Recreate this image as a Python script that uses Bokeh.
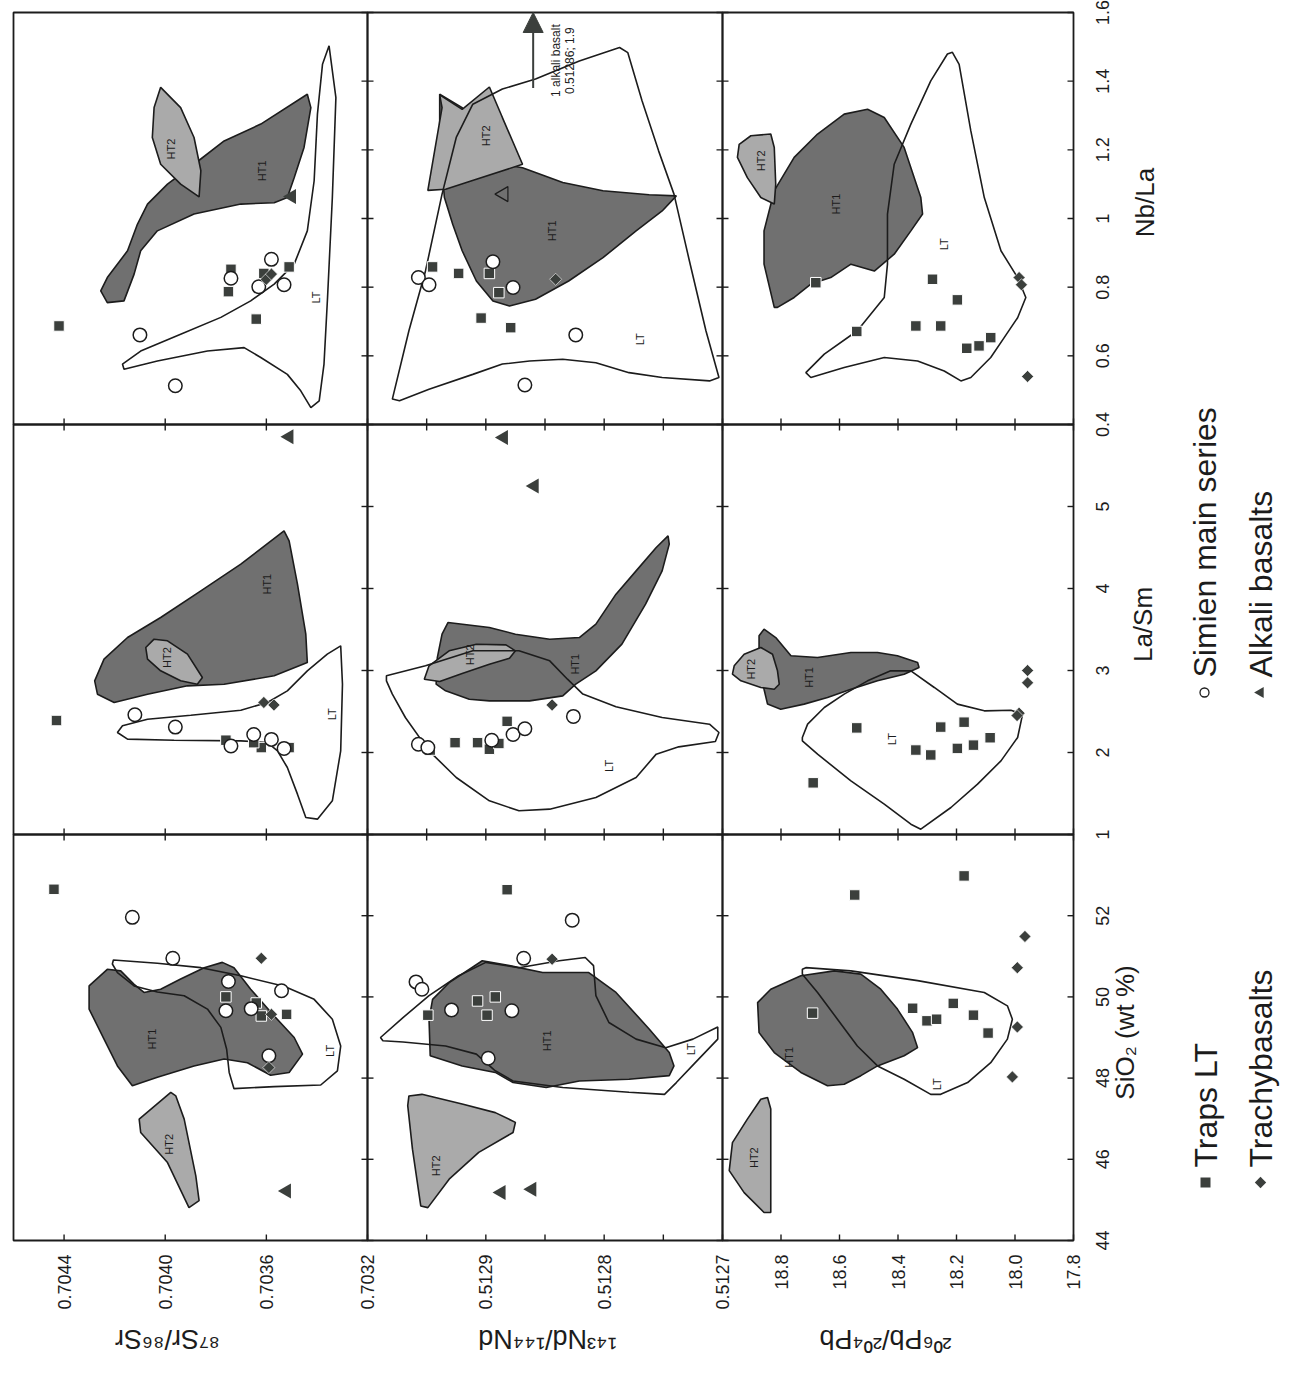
import math
from bokeh.plotting import figure
from bokeh.models import Range1d, Arrow, NormalHead
from bokeh.embed import file_html
from bokeh.resources import INLINE
from bokeh.core.properties import value

# ---------------- axes (figure is printed rotated 90 deg) ----------------
sr_range = (0.7046, 0.7032)
nd_range = (0.5130, 0.5127)
pb_range = (19.0, 17.8)
sio2_range = (44, 54)
lasm_range = (1, 6)
nbla_range = (0.4, 1.6)

sr_ticks = [0.7044, 0.7040, 0.7036, 0.7032]
nd_ticks = [0.5129, 0.5128, 0.5127]
nd_minor = [0.51295, 0.51285, 0.51275]
pb_ticks = [18.8, 18.6, 18.4, 18.2, 18.0, 17.8]
sio2_ticks = [44, 46, 48, 50, 52]
lasm_ticks = [1, 2, 3, 4, 5]
nbla_ticks = [0.4, 0.6, 0.8, 1.0, 1.2, 1.4, 1.6]

iso_titles = ["\u2078\u2077Sr/\u2078\u2076Sr", "\u00b9\u2074\u00b3Nd/\u00b9\u2074\u2074Nd", "\u00b2\u2070\u2076Pb/\u00b2\u2070\u2074Pb"]
var_titles = ["Nb/La", "La/Sm", "SiO\u2082 (wt %)"]
legend_names = ["Traps LT", "Trachybasalts", "Simien main series", "Alkali basalts"]
field_names = ["HT1", "HT2", "LT"]

# ---------------- 87Sr/86Sr vs SiO2 ----------------
traps_A_x = [0.70444, 0.70376, 0.70362, 0.70352, 0.70364]
traps_A_y = [52.65, 50.00, 49.53, 49.57, 49.85]
simien_A_x = [0.70413, 0.70397, 0.70375, 0.70376, 0.70366, 0.70354, 0.70359]
simien_A_y = [51.96, 50.95, 50.38, 49.66, 49.71, 50.15, 48.55]
trachy_A_x = [0.70362, 0.70358, 0.70359]
trachy_A_y = [50.95, 49.57, 48.26]
alkali_A_x = [0.70352]
alkali_A_y = [45.22]
ht1_A_x = [0.704229, 0.704301, 0.704301, 0.704242, 0.704189, 0.704130, 0.704031, 0.703886, 0.703767, 0.703675, 0.703583, 0.703510, 0.703457, 0.703490, 0.703569, 0.703662, 0.703728, 0.703774, 0.703846, 0.703939, 0.704018, 0.704084, 0.704123, 0.704176]
ht1_A_y = [50.68, 50.27, 49.70, 48.96, 48.30, 47.81, 48.02, 48.30, 48.47, 48.38, 48.07, 48.14, 48.59, 49.00, 49.53, 50.19, 50.72, 50.85, 50.72, 50.44, 50.19, 50.11, 50.31, 50.64]
ht2_A_x = [0.703978, 0.704103, 0.704097, 0.703991, 0.703906, 0.703866, 0.703879, 0.703925, 0.703958]
ht2_A_y = [47.65, 46.99, 46.66, 45.92, 44.81, 44.98, 45.59, 46.99, 47.56]
lt_A_x = [0.704205, 0.704031, 0.703859, 0.703701, 0.703530, 0.703411, 0.703339, 0.703306, 0.703319, 0.703385, 0.703569, 0.703728, 0.703747, 0.703757, 0.703780, 0.703833, 0.703925, 0.704031, 0.704123, 0.704189, 0.704209]
lt_A_y = [50.91, 50.83, 50.72, 50.52, 50.26, 49.94, 49.45, 48.79, 48.18, 47.83, 47.79, 47.74, 48.14, 48.71, 49.25, 49.70, 50.03, 50.12, 50.27, 50.60, 50.81]
lab_A_x = [0.704051, 0.703985, 0.703348]
lab_A_y = [48.96, 46.37, 48.67]

# ---------------- 87Sr/86Sr vs La/Sm ----------------
traps_B_x = [0.70443, 0.70362, 0.70351, 0.70365, 0.70376]
traps_B_y = [2.39, 2.06, 2.06, 2.12, 2.15]
simien_B_x = [0.70412, 0.70396, 0.70374, 0.70365, 0.70358, 0.70353]
simien_B_y = [2.46, 2.31, 2.08, 2.22, 2.16, 2.05]
trachy_B_x = [0.70361, 0.70357]
trachy_B_y = [2.61, 2.58]
alkali_B_x = [0.70351]
alkali_B_y = [5.85]
ht1_B_x = [0.704279, 0.704242, 0.704149, 0.704018, 0.703859, 0.703701, 0.703530, 0.703510, 0.703477, 0.703444, 0.703438, 0.703569, 0.703767, 0.703912, 0.704070, 0.704202, 0.704268]
ht1_B_y = [2.874, 3.138, 3.402, 3.646, 3.972, 4.297, 4.703, 4.581, 4.053, 3.443, 3.098, 2.935, 2.833, 2.813, 2.711, 2.610, 2.711]
ht2_B_x = [0.704077, 0.704044, 0.703991, 0.703912, 0.703853, 0.703873, 0.703939, 0.704018, 0.704070]
ht2_B_y = [3.281, 3.382, 3.362, 3.199, 2.915, 2.833, 2.874, 2.996, 3.138]
lt_B_x = [0.703306, 0.703299, 0.703306, 0.703339, 0.703398, 0.703444, 0.703477, 0.703517, 0.703556, 0.703596, 0.703701, 0.703965, 0.704149, 0.704189, 0.704169, 0.704070, 0.703899, 0.703701, 0.703596, 0.703517, 0.703438, 0.703359]
lt_B_y = [3.301, 2.833, 2.020, 1.411, 1.187, 1.207, 1.492, 1.817, 2.020, 2.122, 2.142, 2.150, 2.163, 2.244, 2.325, 2.406, 2.455, 2.516, 2.610, 2.752, 2.996, 3.199]
lab_B_x = [0.703596, 0.703991, 0.703339]
lab_B_y = [4.053, 3.158, 2.467]

# ---------------- 87Sr/86Sr vs Nb/La ----------------
traps_C_x = [0.70442, 0.70375, 0.70374, 0.70364, 0.70351, 0.70361]
traps_C_y = [0.687, 0.787, 0.852, 0.707, 0.859, 0.840]
simien_C_x = [0.70410, 0.70396, 0.70374, 0.70363, 0.70358, 0.70353]
simien_C_y = [0.661, 0.513, 0.826, 0.801, 0.881, 0.807]
trachy_C_x = [0.70360, 0.70358]
trachy_C_y = [0.823, 0.838]
alkali_C_x = [0.70350]
alkali_C_y = [1.064]
ht1_C_x = [0.704255, 0.704229, 0.704149, 0.704110, 0.704070, 0.703991, 0.703886, 0.703767, 0.703622, 0.703438, 0.703424, 0.703451, 0.703490, 0.703517, 0.703569, 0.703701, 0.703886, 0.704031, 0.704097, 0.704123, 0.704163, 0.704229]
ht1_C_y = [0.789, 0.828, 0.906, 0.983, 1.042, 1.100, 1.158, 1.226, 1.275, 1.362, 1.323, 1.207, 1.119, 1.061, 1.046, 1.042, 1.013, 0.964, 0.906, 0.838, 0.760, 0.755]
ht2_C_x = [0.704018, 0.704044, 0.704051, 0.704018, 0.703939, 0.703866, 0.703859, 0.703886, 0.703939]
ht2_C_y = [1.382, 1.323, 1.236, 1.158, 1.100, 1.063, 1.139, 1.236, 1.323]
lt_C_x = [0.703352, 0.703325, 0.703339, 0.703358, 0.703372, 0.703391, 0.703424, 0.703464, 0.703517, 0.703622, 0.703688, 0.703833, 0.704031, 0.704163, 0.704169, 0.704097, 0.703939, 0.703780, 0.703662, 0.703569, 0.703490, 0.703438, 0.703411, 0.703398, 0.703378]
lt_C_y = [1.503, 1.352, 1.061, 0.770, 0.576, 0.469, 0.449, 0.498, 0.546, 0.595, 0.624, 0.614, 0.585, 0.561, 0.576, 0.614, 0.663, 0.712, 0.760, 0.809, 0.867, 0.964, 1.110, 1.304, 1.449]
lab_C_x = [0.703616, 0.703978, 0.703405]
lab_C_y = [1.139, 1.202, 0.770]

# ---------------- 143Nd/144Nd vs SiO2 ----------------
traps_D_x = [0.512882, 0.512949, 0.512907, 0.512892, 0.512899]
traps_D_y = [52.64, 49.55, 49.90, 50.00, 49.55]
simien_D_x = [0.512827, 0.512868, 0.512959, 0.512954, 0.512929, 0.512878, 0.512898]
simien_D_y = [51.89, 50.95, 50.37, 50.19, 49.68, 49.66, 48.49]
trachy_D_x = [0.512844]
trachy_D_y = [50.93]
alkali_D_x = [0.512887, 0.512861]
alkali_D_y = [45.18, 45.26]
ht1_D_x = [0.512945, 0.512931, 0.512903, 0.512880, 0.512852, 0.512813, 0.512790, 0.512762, 0.512745, 0.512741, 0.512745, 0.512779, 0.512821, 0.512849, 0.512877, 0.512892, 0.512920, 0.512947, 0.512948]
ht1_D_y = [49.94, 50.35, 50.89, 50.77, 50.60, 50.60, 50.11, 49.21, 48.63, 48.30, 48.06, 47.97, 47.93, 47.77, 47.89, 48.14, 48.30, 48.55, 49.45]
ht2_D_x = [0.512965, 0.512966, 0.512962, 0.512955, 0.512949, 0.512931, 0.512906, 0.512877, 0.512875, 0.512892, 0.512920, 0.512954]
ht2_D_y = [47.56, 47.32, 46.25, 44.85, 44.81, 45.51, 46.17, 46.66, 46.91, 47.15, 47.36, 47.60]
lt_D_x = [0.512989, 0.512970, 0.512948, 0.512923, 0.512900, 0.512872, 0.512838, 0.512816, 0.512809, 0.512807, 0.512796, 0.512773, 0.512748, 0.512725, 0.512704, 0.512704, 0.512723, 0.512739, 0.512749, 0.512779, 0.512835, 0.512877, 0.512892, 0.512908, 0.512934, 0.512970, 0.512987]
lt_D_y = [49.00, 49.49, 50.03, 50.52, 50.85, 50.72, 50.89, 50.97, 50.77, 50.03, 49.37, 48.96, 48.75, 48.96, 49.26, 48.96, 48.38, 47.89, 47.60, 47.65, 47.77, 47.93, 48.18, 48.59, 48.79, 48.89, 48.92]
lab_D_x = [0.512848, 0.512942, 0.512727]
lab_D_y = [48.92, 45.84, 48.71]

# ---------------- 143Nd/144Nd vs La/Sm ----------------
traps_E_x = [0.512882, 0.512926, 0.512907, 0.512897, 0.512889, 0.512947]
traps_E_y = [2.38, 2.12, 2.12, 2.04, 2.11, 2.03]
simien_E_x = [0.512957, 0.512949, 0.512895, 0.512877, 0.512867, 0.512826]
simien_E_y = [2.10, 2.06, 2.15, 2.22, 2.29, 2.44]
trachy_E_x = [0.512844]
trachy_E_y = [2.58]
alkali_E_x = [0.512885, 0.512859]
alkali_E_y = [5.84, 5.25]
ht1_E_x = [0.512932, 0.512897, 0.512875, 0.512846, 0.512821, 0.512807, 0.512790, 0.512773, 0.512756, 0.512746, 0.512745, 0.512751, 0.512765, 0.512785, 0.512807, 0.512824, 0.512835, 0.512863, 0.512897, 0.512914, 0.512934, 0.512942, 0.512941, 0.512937]
ht1_E_y = [3.585, 3.524, 3.443, 3.382, 3.402, 3.565, 3.931, 4.215, 4.500, 4.642, 4.541, 4.215, 3.809, 3.321, 2.996, 2.833, 2.691, 2.630, 2.630, 2.650, 2.752, 2.833, 3.158, 3.443]
ht2_E_x = [0.512952, 0.512948, 0.512931, 0.512908, 0.512883, 0.512875, 0.512880, 0.512897, 0.512920, 0.512939]
ht2_E_y = [2.894, 3.057, 3.240, 3.321, 3.313, 3.240, 3.150, 3.077, 2.963, 2.866]
lt_E_x = [0.512984, 0.512951, 0.512911, 0.512872, 0.512846, 0.512831, 0.512818, 0.512790, 0.512751, 0.512711, 0.512703, 0.512706, 0.512737, 0.512756, 0.512773, 0.512807, 0.512846, 0.512872, 0.512897, 0.512925, 0.512948, 0.512968, 0.512979, 0.512984]
lt_E_y = [2.935, 3.057, 3.240, 3.240, 3.118, 2.894, 2.712, 2.557, 2.427, 2.345, 2.244, 2.134, 2.069, 1.980, 1.695, 1.451, 1.309, 1.289, 1.411, 1.695, 2.020, 2.427, 2.712, 2.874]
lab_E_x = [0.512825, 0.512913, 0.512796]
lab_E_y = [3.077, 3.191, 1.837]

# ---------------- 143Nd/144Nd vs Nb/La ----------------
traps_F_x = [0.512945, 0.512923, 0.512897, 0.512889, 0.512904, 0.512879]
traps_F_y = [0.859, 0.840, 0.840, 0.784, 0.710, 0.682]
simien_F_x = [0.512957, 0.512948, 0.512894, 0.512877, 0.512824, 0.512867]
simien_F_y = [0.828, 0.807, 0.874, 0.799, 0.661, 0.515]
trachy_F_x = [0.512841]
trachy_F_y = [0.823]
alkali_F_x = [0.512885]
alkali_F_y = [1.071]
offscale_alkali_nd = 0.51286
offscale_alkali_nbla = 1.9
ht1_F_x = [0.512939, 0.512920, 0.512911, 0.512886, 0.512869, 0.512835, 0.512801, 0.512762, 0.512739, 0.512751, 0.512773, 0.512801, 0.512830, 0.512858, 0.512880, 0.512894, 0.512908, 0.512920, 0.512928, 0.512935, 0.512938, 0.512939]
ht1_F_y = [1.362, 1.323, 1.255, 1.158, 1.148, 1.105, 1.081, 1.069, 1.066, 1.022, 0.964, 0.886, 0.818, 0.765, 0.745, 0.760, 0.818, 0.906, 0.983, 1.061, 1.178, 1.275]
ht2_F_x = [0.512949, 0.512937, 0.512939, 0.512920, 0.512897, 0.512886, 0.512869, 0.512908, 0.512934]
ht2_F_y = [1.082, 1.323, 1.360, 1.318, 1.383, 1.294, 1.158, 1.114, 1.085]
lt_F_x = [0.512979, 0.512965, 0.512951, 0.512937, 0.512925, 0.512911, 0.512886, 0.512858, 0.512821, 0.512787, 0.512780, 0.512768, 0.512754, 0.512741, 0.512728, 0.512714, 0.512703, 0.512711, 0.512751, 0.512779, 0.512807, 0.512835, 0.512863, 0.512886, 0.512911, 0.512948, 0.512973]
lt_F_y = [0.474, 0.673, 0.847, 1.071, 1.236, 1.333, 1.377, 1.406, 1.459, 1.498, 1.483, 1.343, 1.197, 1.071, 0.877, 0.673, 0.537, 0.527, 0.537, 0.551, 0.580, 0.590, 0.585, 0.576, 0.546, 0.503, 0.469]
lab_F_x = [0.512844, 0.512900, 0.512770]
lab_F_y = [0.964, 1.241, 0.648]

# ---------------- 206Pb/204Pb vs SiO2 ----------------
traps_G_x = [18.174, 18.548, 18.692, 18.350, 18.301, 18.268, 18.211, 18.142, 18.092]
traps_G_y = [52.98, 52.51, 49.60, 49.72, 49.41, 49.45, 49.84, 49.55, 49.11]
trachy_G_x = [17.966, 17.992, 17.992, 18.009]
trachy_G_y = [51.49, 50.72, 49.26, 48.03]
ht1_G_x = [18.880, 18.835, 18.732, 18.618, 18.527, 18.459, 18.402, 18.350, 18.333, 18.379, 18.470, 18.527, 18.584, 18.641, 18.732, 18.823, 18.875]
ht1_G_y = [49.86, 50.19, 50.52, 50.64, 50.56, 50.19, 49.70, 49.12, 48.75, 48.55, 48.30, 48.06, 47.85, 47.81, 48.14, 48.63, 49.12]
ht2_G_x = [18.846, 18.835, 18.835, 18.858, 18.926, 18.977, 18.966, 18.915, 18.869]
ht2_G_y = [47.52, 47.24, 44.69, 44.69, 45.18, 45.72, 46.41, 46.99, 47.48]
lt_G_x = [18.727, 18.715, 18.561, 18.333, 18.105, 18.026, 18.009, 18.026, 18.083, 18.162, 18.254, 18.288, 18.379, 18.470, 18.539, 18.607, 18.675, 18.727]
lt_G_y = [50.68, 50.72, 50.64, 50.40, 50.11, 49.78, 49.45, 48.96, 48.38, 47.89, 47.60, 47.60, 47.97, 48.30, 48.79, 49.45, 50.11, 50.56]
lab_G_x = [18.772, 18.892, 18.265]
lab_G_y = [48.51, 46.04, 47.85]

# ---------------- 206Pb/204Pb vs La/Sm ----------------
traps_H_x = [18.541, 18.690, 18.339, 18.288, 18.254, 18.174, 18.197, 18.142, 18.085]
traps_H_y = [2.30, 1.63, 2.03, 1.97, 2.31, 2.37, 2.05, 2.09, 2.18]
trachy_H_x = [17.957, 17.957, 17.986, 17.993]
trachy_H_y = [3.00, 2.85, 2.48, 2.45]
ht1_H_x = [18.875, 18.858, 18.818, 18.766, 18.675, 18.561, 18.470, 18.402, 18.333, 18.328, 18.379, 18.470, 18.561, 18.641, 18.721, 18.801, 18.846, 18.858, 18.869, 18.875]
ht1_H_y = [3.423, 3.504, 3.402, 3.179, 3.159, 3.220, 3.220, 3.179, 3.098, 3.037, 2.955, 2.874, 2.772, 2.671, 2.590, 2.528, 2.590, 2.772, 2.996, 3.240]
ht2_H_x = [18.960, 18.926, 18.869, 18.829, 18.812, 18.806, 18.823, 18.869, 18.937, 18.966]
ht2_H_y = [3.057, 3.199, 3.281, 3.199, 2.996, 2.833, 2.772, 2.793, 2.874, 2.955]
lt_H_x = [18.727, 18.709, 18.652, 18.584, 18.504, 18.425, 18.356, 18.276, 18.197, 18.105, 18.014, 17.974, 17.991, 18.048, 18.128, 18.219, 18.322, 18.356, 18.447, 18.561, 18.675, 18.727]
lt_H_y = [2.183, 2.346, 2.549, 2.712, 2.874, 2.996, 2.996, 2.793, 2.590, 2.508, 2.516, 2.467, 2.183, 1.898, 1.614, 1.329, 1.065, 1.126, 1.370, 1.654, 1.980, 2.142]
lab_H_x = [18.704, 18.903, 18.419]
lab_H_y = [2.915, 3.016, 2.163]

# ---------------- 206Pb/204Pb vs Nb/La ----------------
traps_I_x = [18.681, 18.282, 18.197, 18.541, 18.339, 18.254, 18.165, 18.123, 18.083]
traps_I_y = [0.813, 0.823, 0.763, 0.671, 0.687, 0.687, 0.622, 0.629, 0.653]
trachy_I_x = [17.986, 17.978, 17.957]
trachy_I_y = [0.828, 0.807, 0.540]
ht1_I_x = [18.823, 18.858, 18.858, 18.823, 18.755, 18.675, 18.584, 18.504, 18.447, 18.379, 18.322, 18.316, 18.356, 18.413, 18.481, 18.561, 18.630, 18.698, 18.755, 18.812]
ht1_I_y = [0.741, 0.867, 0.964, 1.081, 1.178, 1.246, 1.304, 1.318, 1.294, 1.207, 1.061, 1.013, 0.964, 0.896, 0.847, 0.867, 0.828, 0.809, 0.770, 0.741]
ht2_I_x = [18.943, 18.903, 18.835, 18.823, 18.818, 18.823, 18.869, 18.915, 18.949]
ht2_I_y = [1.216, 1.241, 1.246, 1.207, 1.100, 1.042, 1.061, 1.119, 1.178]
lt_I_x = [18.214, 18.191, 18.151, 18.105, 18.048, 17.991, 17.963, 17.991, 18.037, 18.083, 18.151, 18.185, 18.242, 18.333, 18.447, 18.584, 18.698, 18.715, 18.652, 18.539, 18.447, 18.436, 18.436, 18.413, 18.356, 18.288, 18.231]
lt_I_y = [1.484, 1.449, 1.255, 1.061, 0.906, 0.828, 0.770, 0.711, 0.653, 0.595, 0.537, 0.527, 0.556, 0.585, 0.595, 0.566, 0.537, 0.551, 0.605, 0.673, 0.770, 0.867, 1.013, 1.158, 1.275, 1.401, 1.479]
lab_I_x = [18.613, 18.869, 18.242]
lab_I_y = [1.042, 1.168, 0.925]

# ---------------- assembly ----------------
panels = {
    (0, 0): dict(ht1=(ht1_C_x, ht1_C_y), ht2=(ht2_C_x, ht2_C_y), lt=(lt_C_x, lt_C_y),
                 traps=(traps_C_x, traps_C_y), simien=(simien_C_x, simien_C_y),
                 trachy=(trachy_C_x, trachy_C_y), alkali=(alkali_C_x, alkali_C_y), lab=(lab_C_x, lab_C_y)),
    (0, 1): dict(ht1=(ht1_F_x, ht1_F_y), ht2=(ht2_F_x, ht2_F_y), lt=(lt_F_x, lt_F_y),
                 traps=(traps_F_x, traps_F_y), simien=(simien_F_x, simien_F_y),
                 trachy=(trachy_F_x, trachy_F_y), alkali=(alkali_F_x, alkali_F_y), lab=(lab_F_x, lab_F_y)),
    (0, 2): dict(ht1=(ht1_I_x, ht1_I_y), ht2=(ht2_I_x, ht2_I_y), lt=(lt_I_x, lt_I_y),
                 traps=(traps_I_x, traps_I_y), simien=([], []),
                 trachy=(trachy_I_x, trachy_I_y), alkali=([], []), lab=(lab_I_x, lab_I_y)),
    (1, 0): dict(ht1=(ht1_B_x, ht1_B_y), ht2=(ht2_B_x, ht2_B_y), lt=(lt_B_x, lt_B_y),
                 traps=(traps_B_x, traps_B_y), simien=(simien_B_x, simien_B_y),
                 trachy=(trachy_B_x, trachy_B_y), alkali=(alkali_B_x, alkali_B_y), lab=(lab_B_x, lab_B_y)),
    (1, 1): dict(ht1=(ht1_E_x, ht1_E_y), ht2=(ht2_E_x, ht2_E_y), lt=(lt_E_x, lt_E_y),
                 traps=(traps_E_x, traps_E_y), simien=(simien_E_x, simien_E_y),
                 trachy=(trachy_E_x, trachy_E_y), alkali=(alkali_E_x, alkali_E_y), lab=(lab_E_x, lab_E_y)),
    (1, 2): dict(ht1=(ht1_H_x, ht1_H_y), ht2=(ht2_H_x, ht2_H_y), lt=(lt_H_x, lt_H_y),
                 traps=(traps_H_x, traps_H_y), simien=([], []),
                 trachy=(trachy_H_x, trachy_H_y), alkali=([], []), lab=(lab_H_x, lab_H_y)),
    (2, 0): dict(ht1=(ht1_A_x, ht1_A_y), ht2=(ht2_A_x, ht2_A_y), lt=(lt_A_x, lt_A_y),
                 traps=(traps_A_x, traps_A_y), simien=(simien_A_x, simien_A_y),
                 trachy=(trachy_A_x, trachy_A_y), alkali=(alkali_A_x, alkali_A_y), lab=(lab_A_x, lab_A_y)),
    (2, 1): dict(ht1=(ht1_D_x, ht1_D_y), ht2=(ht2_D_x, ht2_D_y), lt=(lt_D_x, lt_D_y),
                 traps=(traps_D_x, traps_D_y), simien=(simien_D_x, simien_D_y),
                 trachy=(trachy_D_x, trachy_D_y), alkali=(alkali_D_x, alkali_D_y), lab=(lab_D_x, lab_D_y)),
    (2, 2): dict(ht1=(ht1_G_x, ht1_G_y), ht2=(ht2_G_x, ht2_G_y), lt=(lt_G_x, lt_G_y),
                 traps=(traps_G_x, traps_G_y), simien=([], []),
                 trachy=(trachy_G_x, trachy_G_y), alkali=([], []), lab=(lab_G_x, lab_G_y)),
}

INK = "#1c1c1c"
DARK = "#3b3f3c"
HT1_FILL = "#707070"
HT2_FILL = "#aaaaaa"
FONT = "Liberation Sans"

# ---------------- page layout (canvas pixels) ----------------
W, H = 1291, 1360
COL_PX = [(13, 367), (367, 722), (722, 1073)]      # left, right
ROW_PX = [(12, 424), (424, 834), (834, 1240)]      # top, bottom (measured from the top)
TICK = 6

col_names = ["sr", "nd", "pb"]
row_names = ["nbla", "lasm", "sio2"]
col_ranges = [sr_range, nd_range, pb_range]
row_ranges = [nbla_range, lasm_range, sio2_range]
col_ticks = [sr_ticks, nd_ticks + nd_minor, pb_ticks]
col_labels = [sr_ticks, nd_ticks, pb_ticks]
col_fmt = ["{:.4f}", "{:.4f}", "{:.1f}"]
row_ticks = [nbla_ticks, lasm_ticks, sio2_ticks]
row_fmt = ["{:g}", "{:d}", "{:d}"]


def x_span(lo, hi, a, b):
    per = (hi - lo) / (b - a)
    return Range1d(start=lo - per * a, end=lo + per * (W - a))


def y_span(lo, hi, top, bottom):
    per = (hi - lo) / (bottom - top)
    return Range1d(start=lo - per * (H - bottom), end=lo + per * bottom)


p = figure(width=W, height=H, x_range=Range1d(0, W), y_range=Range1d(0, H),
           x_axis_location=None, y_axis_location=None, toolbar_location=None,
           output_backend="svg", min_border=0, outline_line_color=None,
           background_fill_color="white", border_fill_color="white")
p.grid.visible = False
p.extra_x_ranges = {col_names[c]: x_span(*col_ranges[c], *COL_PX[c]) for c in range(3)}
p.extra_y_ranges = {row_names[r]: y_span(*row_ranges[r], *ROW_PX[r]) for r in range(3)}

# ---------------- panels ----------------
for (r, c), d in panels.items():
    kw = dict(x_range_name=col_names[c], y_range_name=row_names[r])
    p.patch(*d["ht1"], fill_color=HT1_FILL, line_color=INK, line_width=1.6, **kw)
    p.patch(*d["ht2"], fill_color=HT2_FILL, line_color=INK, line_width=1.6, **kw)
    p.patch(*d["lt"], fill_alpha=0, line_color=INK, line_width=1.6, **kw)
    p.text(x=d["lab"][0], y=d["lab"][1], text=field_names, angle=math.pi / 2,
           text_font=value(FONT), text_font_size="11px", text_color=INK,
           text_align="center", text_baseline="middle", **kw)
    p.scatter(*d["traps"], marker="square", size=10.5, fill_color=DARK,
              line_color="white", line_width=1, **kw)
    p.scatter(*d["simien"], marker="circle", size=13.5, fill_color="white",
              line_color=INK, line_width=1.5, **kw)
    p.scatter(*d["trachy"], marker="square", angle=math.pi / 4, size=8.5,
              fill_color=DARK, line_color="white", line_width=0.6, **kw)
    if (r, c) == (0, 1):
        p.scatter(*d["alkali"], marker="triangle", angle=math.pi / 2, size=15,
                  fill_color=HT1_FILL, line_color=INK, line_width=1.2, **kw)
    else:
        p.scatter(*d["alkali"], marker="triangle", angle=math.pi / 2, size=15,
                  fill_color=DARK, line_color=None, **kw)

# off-scale alkali basalt (arrow in the Nd - Nb/La panel)
p.add_layout(Arrow(end=NormalHead(size=20, fill_color=DARK, line_color=DARK),
                   x_start=offscale_alkali_nd, y_start=1.38,
                   x_end=offscale_alkali_nd, y_end=nbla_range[1],
                   line_color=DARK, line_width=2, x_range_name="nd", y_range_name="nbla"))
p.text(x=[0.512841, 0.512829], y=[1.46, 1.46],
       text=["1 alkali basalt", f"{offscale_alkali_nd}; {offscale_alkali_nbla}"],
       angle=math.pi / 2, text_font=value(FONT), text_font_size="12px", text_color=INK,
       text_align="center", text_baseline="middle", x_range_name="nd", y_range_name="nbla")

# ---------------- frames and ticks ----------------
for r in range(3):
    top, bottom = H - ROW_PX[r][0], H - ROW_PX[r][1]
    for c in range(3):
        left, right = COL_PX[c]
        p.quad(left=[left], right=[right], top=[top], bottom=[bottom],
               fill_alpha=0, line_color=INK, line_width=1.8)
        xt = col_ticks[c]
        p.segment(x0=xt, x1=xt, y0=[bottom] * len(xt), y1=[bottom + TICK] * len(xt),
                  line_color=INK, line_width=1.4, x_range_name=col_names[c])
        if r > 0:
            p.segment(x0=xt, x1=xt, y0=[top] * len(xt), y1=[top - TICK] * len(xt),
                      line_color=INK, line_width=1.4, x_range_name=col_names[c])
        yt = row_ticks[r]
        p.segment(x0=[right] * len(yt), x1=[right - TICK] * len(yt), y0=yt, y1=yt,
                  line_color=INK, line_width=1.4, y_range_name=row_names[r])
        if c > 0:
            p.segment(x0=[left] * len(yt), x1=[left + TICK] * len(yt), y0=yt, y1=yt,
                      line_color=INK, line_width=1.4, y_range_name=row_names[r])

# ---------------- tick labels ----------------
BOTTOM_LABEL_Y = 106
RIGHT_LABEL_X = 1102
for c in range(3):
    t = col_labels[c]
    p.text(x=t, y=[BOTTOM_LABEL_Y] * len(t), text=[col_fmt[c].format(v) for v in t],
           angle=math.pi / 2, text_font=value(FONT), text_font_size="18px", text_color=INK,
           text_align="right", text_baseline="middle", x_range_name=col_names[c])
for r in range(3):
    t = row_ticks[r]
    p.text(x=[RIGHT_LABEL_X] * len(t), y=t, text=[row_fmt[r].format(v) for v in t],
           angle=math.pi / 2, text_font=value(FONT), text_font_size="18px", text_color=INK,
           text_align="center", text_baseline="middle", y_range_name=row_names[r])

# ---------------- axis titles ----------------
iso_title_pos = ([167, 547, 885], [22, 22, 22])
p.text(x=iso_title_pos[0], y=iso_title_pos[1], text=iso_titles, angle=math.pi,
       text_font=value(FONT), text_font_size="27px", text_color=INK,
       text_align="center", text_baseline="middle")
var_title_pos = ([1144, 1142, 1124], [1158, 736, 328])
p.text(x=var_title_pos[0], y=var_title_pos[1], text=var_titles, angle=math.pi / 2,
       text_font=value(FONT), text_font_size="26px", text_color=INK,
       text_align="center", text_baseline="middle")

# ---------------- legend ----------------
leg_x = [1205, 1260, 1204, 1260]
leg_y = [178, 178, 668, 668]
p.scatter([leg_x[0]], [leg_y[0]], marker="square", size=10, fill_color=DARK, line_color=None)
p.scatter([leg_x[1]], [leg_y[1]], marker="square", angle=math.pi / 4, size=8, fill_color=DARK, line_color=None)
p.scatter([leg_x[2]], [leg_y[2]], marker="circle", size=9, fill_color="white", line_color=INK, line_width=1.3)
p.scatter([leg_x[3]], [leg_y[3]], marker="triangle", angle=math.pi / 2, size=11, fill_color=DARK, line_color=None)
p.text(x=leg_x, y=[v + 15 for v in leg_y], text=legend_names, angle=math.pi / 2,
       text_font=value(FONT), text_font_size="32px", text_color=INK,
       text_align="left", text_baseline="middle")

open("out.html", "w").write(file_html(p, INLINE))
